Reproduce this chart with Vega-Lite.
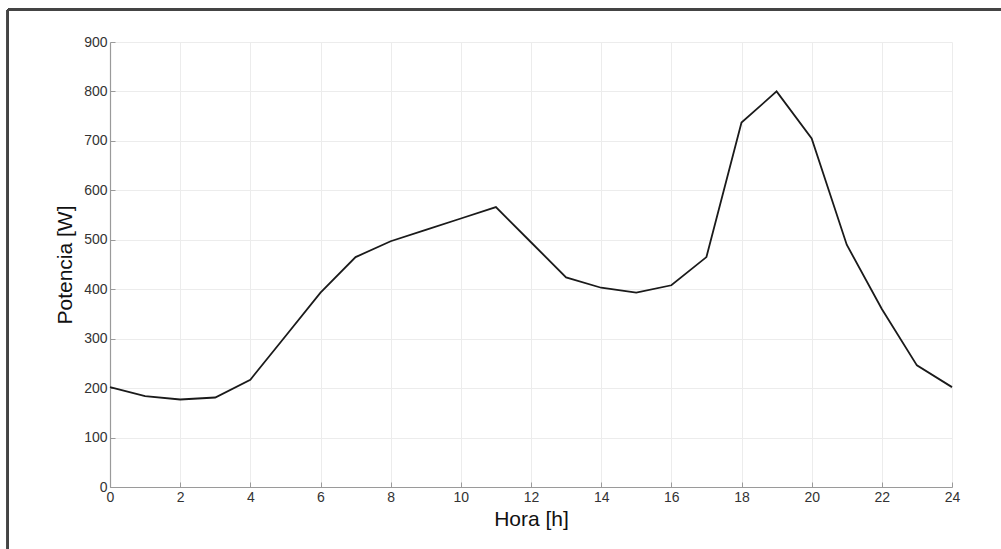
{
  "$schema": "https://vega.github.io/schema/vega-lite/v6.json",
  "width": 842,
  "height": 445,
  "autosize": {"type": "none"},
  "padding": {"left": 110, "top": 42, "right": 49, "bottom": 62},
  "background": "white",
  "config": {
    "view": {"stroke": null},
    "font": "Liberation Sans",
    "axis": {
      "domainColor": "#9a9a9a",
      "domainWidth": 1.2,
      "tickColor": "#9a9a9a",
      "tickSize": -5,
      "gridColor": "#ececec",
      "gridWidth": 1,
      "labelFont": "Liberation Sans",
      "labelFontSize": 14,
      "labelColor": "#333333",
      "titleFont": "Liberation Sans",
      "titleFontSize": 21,
      "titleFontWeight": "normal",
      "titleColor": "#111111"
    }
  },
  "data": {
    "values": [
      {"hora": 0, "potencia": 202},
      {"hora": 1, "potencia": 184},
      {"hora": 2, "potencia": 177},
      {"hora": 3, "potencia": 181},
      {"hora": 4, "potencia": 217},
      {"hora": 5, "potencia": 305},
      {"hora": 6, "potencia": 393},
      {"hora": 7, "potencia": 465},
      {"hora": 8, "potencia": 497},
      {"hora": 9, "potencia": 520},
      {"hora": 10, "potencia": 543},
      {"hora": 11, "potencia": 566},
      {"hora": 12, "potencia": 495},
      {"hora": 13, "potencia": 424},
      {"hora": 14, "potencia": 403},
      {"hora": 15, "potencia": 393},
      {"hora": 16, "potencia": 408},
      {"hora": 17, "potencia": 465},
      {"hora": 18, "potencia": 737},
      {"hora": 19, "potencia": 800},
      {"hora": 20, "potencia": 705},
      {"hora": 21, "potencia": 490},
      {"hora": 22, "potencia": 360},
      {"hora": 23, "potencia": 246},
      {"hora": 24, "potencia": 202}
    ]
  },
  "layer": [
    {
      "mark": {"type": "line", "color": "#1a1a1a", "strokeWidth": 1.8},
      "encoding": {
        "x": {
          "field": "hora",
          "type": "quantitative",
          "title": "Hora [h]",
          "scale": {"domain": [0, 24], "nice": false, "zero": false},
          "axis": {"values": [0,2,4,6,8,10,12,14,16,18,20,22,24], "labelPadding": 8, "titlePadding": 4, "labelFlush": false, "labelOverlap": false}
        },
        "y": {
          "field": "potencia",
          "type": "quantitative",
          "title": "Potencia [W]",
          "scale": {"domain": [0, 900], "nice": false},
          "axis": {"values": [0,100,200,300,400,500,600,700,800,900], "labelPadding": 8, "titlePadding": 8, "labelFlush": false, "labelOverlap": false}
        }
      }
    },
    {
      "mark": {"type": "rule", "color": "#444444", "strokeWidth": 2, "clip": false},
      "encoding": {
        "x": {"datum": -2.91},
        "y": {"datum": -300},
        "y2": {"datum": 965}
      }
    },
    {
      "mark": {"type": "rule", "color": "#444444", "strokeWidth": 2, "clip": false},
      "encoding": {
        "x": {"datum": -2.91},
        "x2": {"datum": 30},
        "y": {"datum": 965}
      }
    }
  ]
}
